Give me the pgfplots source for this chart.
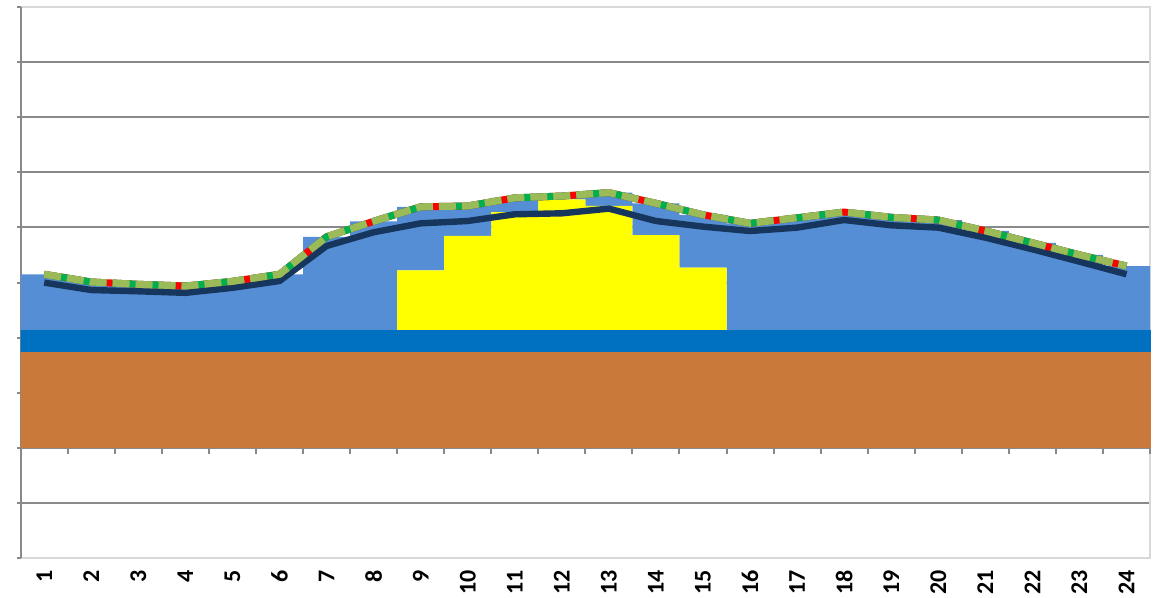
\documentclass[border=0pt]{standalone}
\usepackage{pgfplots}
\usepackage{pgfplotstable}
\pgfplotsset{compat=1.18}
\usepackage{fontspec}
\setmainfont{Carlito}

\definecolor{soil}{HTML}{C97A3A}
\definecolor{base}{HTML}{0070C0}
\definecolor{sun}{HTML}{FFFF00}
\definecolor{rest}{HTML}{558ED5}
\definecolor{navy}{HTML}{17365D}
\definecolor{olive}{HTML}{9BBB59}
\definecolor{leaf}{HTML}{00B050}
\definecolor{gridgray}{HTML}{898989}
\definecolor{framegray}{HTML}{D9D9D9}

% hourly stack: brown base, blue band, solar, remaining load; total and net curves
\pgfplotstableread{
h  brown base  solar other total net
1  1.726 0.411 0     1.012 3.149 2.998
2  1.726 0.411 0     0.872 3.009 2.863
3  1.726 0.411 0     0.830 2.967 2.840
4  1.726 0.411 0     0.799 2.936 2.812
5  1.726 0.411 0     0.884 3.021 2.903
6  1.726 0.411 0     1.012 3.149 3.027
7  1.726 0.411 0     1.693 3.830 3.663
8  1.726 0.411 0     1.975 4.112 3.912
9  1.726 0.411 1.084 1.154 4.375 4.075
10 1.726 0.411 1.708 0.545 4.390 4.117
11 1.726 0.411 2.143 0.258 4.538 4.239
12 1.726 0.411 2.374 0.060 4.571 4.257
13 1.726 0.411 2.253 0.243 4.633 4.342
14 1.726 0.411 1.726 0.576 4.439 4.117
15 1.726 0.411 1.133 0.960 4.230 4.015
16 1.726 0.411 0     1.938 4.075 3.935
17 1.726 0.411 0     2.038 4.175 3.997
18 1.726 0.411 0     2.143 4.280 4.135
19 1.726 0.411 0     2.047 4.184 4.039
20 1.726 0.411 0     1.998 4.135 3.997
21 1.726 0.411 0     1.802 3.939 3.815
22 1.726 0.411 0     1.584 3.721 3.603
23 1.726 0.411 0     1.366 3.503 3.379
24 1.726 0.411 0     1.162 3.299 3.149
}\hourly

\pgfplotsset{
  common/.style={
    scale only axis, width=564.65pt, height=275.2pt,
    xmin=0.5, xmax=24.5, ymin=-2, ymax=8, clip=false,
  }
}

\begin{document}
\begin{tikzpicture}
\begin{axis}[
  common, name=main,
  ybar stacked, bar width=1,
  xtick={1,...,24},
  major tick length=0pt,
  /pgf/number format/assume math mode=true,
  xticklabel style={yshift=-6.1pt, rotate=90, anchor=east, inner sep=0pt,
    font=\fontsize{12}{14}\selectfont\bfseries},
  ytick={-1,...,7}, yticklabels={},
  ymajorgrids, grid style={gridgray, line width=1pt},
  axis line style={framegray, line width=1pt},
]
\addplot[fill=soil, draw=soil, line width=0.2pt] table[x=h, y=brown] \hourly;
\addplot[fill=base, draw=base, line width=0.2pt] table[x=h, y=base] \hourly;
\addplot[fill=sun, draw=none] table[x=h, y=solar] \hourly;
\addplot[fill=rest, draw=none] table[x=h, y=other] \hourly;

% horizontal axis at zero with category separators
\draw[gridgray, line width=1pt] (axis cs:0.5,0) -- (axis cs:24.5,0);
\pgfplotsinvokeforeach{0.5,1.5,...,24.5}{
  \draw[gridgray, line width=1pt] (axis cs:#1,0) -- ++(0pt,-3pt);
}
% vertical axis with outside ticks
\draw[gridgray, line width=1pt] (axis cs:0.5,-2) -- (axis cs:0.5,8);
\pgfplotsinvokeforeach{-2,...,8}{
  \draw[gridgray, line width=1pt] (axis cs:0.5,#1) -- ++(-2pt,0pt);
}
\end{axis}

\begin{axis}[common, hide axis]
\addplot[navy, line width=3.2pt, line join=round] table[x=h, y=net] \hourly;
\addplot[red, line width=3.5pt, line join=round] table[x=h, y=total] \hourly;
\addplot[leaf, line width=3.5pt, line join=round, dash pattern=on 31.5pt off 3pt] table[x=h, y=total] \hourly;
\addplot[olive, line width=3.5pt, line join=round, dash pattern=on 8.5pt off 3pt] table[x=h, y=total] \hourly;
\end{axis}

\path (main.south west) ++(-10.35pt,-19.65pt) rectangle ([xshift=5pt,yshift=3.65pt]main.north east);
\end{tikzpicture}
\end{document}
